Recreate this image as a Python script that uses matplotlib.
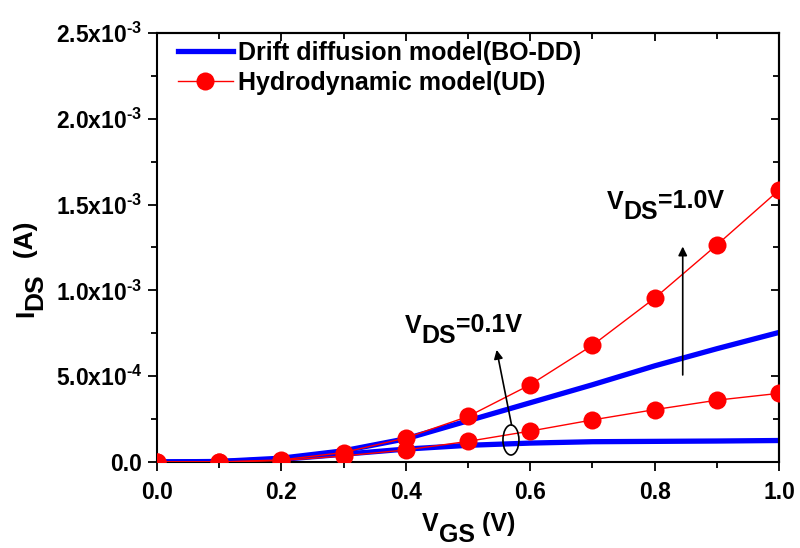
import matplotlib
matplotlib.use("Agg")
import matplotlib.pyplot as plt
from matplotlib.patches import Ellipse
from matplotlib.ticker import MultipleLocator, FixedLocator
from matplotlib.transforms import IdentityTransform

plt.rcParams['font.family'] = ['Liberation Sans', 'DejaVu Sans']
plt.rcParams['font.weight'] = 'bold'
plt.rcParams['mathtext.fontset'] = 'custom'
plt.rcParams['mathtext.rm'] = 'Liberation Sans:bold'
plt.rcParams['mathtext.it'] = 'Liberation Sans:bold'
plt.rcParams['mathtext.bf'] = 'Liberation Sans:bold'

# Gate voltage sweep (V)
vgs = [0.0, 0.1, 0.2, 0.3, 0.4, 0.5, 0.6, 0.7, 0.8, 0.9, 1.0]

# Drain current (A), drift-diffusion model
dd_vds_high = [0.0, 3e-6, 2.2e-5, 6.5e-5, 1.35e-4, 2.4e-4, 3.45e-4, 4.5e-4, 5.6e-4, 6.6e-4, 7.55e-4]
dd_vds_low = [0.0, 2e-6, 1.5e-5, 4.5e-5, 7.5e-5, 9.7e-5, 1.1e-4, 1.18e-4, 1.2e-4, 1.22e-4, 1.25e-4]

# Drain current (A), hydrodynamic model
hd_vds_high = [0.0, 0.0, 1.2e-5, 5.5e-5, 1.4e-4, 2.65e-4, 4.5e-4, 6.8e-4, 9.55e-4, 1.265e-3, 1.585e-3]
hd_vds_low = [0.0, 0.0, 8e-6, 3.5e-5, 7.0e-5, 1.2e-4, 1.8e-4, 2.45e-4, 3.05e-4, 3.6e-4, 4.0e-4]

ytick_vals = [0.0, 5e-4, 1e-3, 1.5e-3, 2e-3, 2.5e-3]
ytick_labels = ["0.0", r"5.0x10$^{\text{-4}}$", r"1.0x10$^{\text{-3}}$",
                r"1.5x10$^{\text{-3}}$", r"2.0x10$^{\text{-3}}$",
                r"2.5x10$^{\text{-3}}$"]
xtick_vals = [0.0, 0.2, 0.4, 0.6, 0.8, 1.0]
xtick_labels = ["0.0", "0.2", "0.4", "0.6", "0.8", "1.0"]

W, H = 800, 548
fig = plt.figure(figsize=(W / 100, H / 100), dpi=100)
ax = fig.add_axes([0.196, 0.157, 0.778, 0.783])

blue = '#0000ff'
red = '#ff0000'

ax.plot(vgs, dd_vds_high, color=blue, lw=3.8, zorder=2,
        label='Drift diffusion model(BO-DD)')
ax.plot(vgs, dd_vds_low, color=blue, lw=3.8, zorder=2)
ax.plot(vgs, hd_vds_high, color=red, lw=1.0, marker='o', ms=13,
        markeredgewidth=0, zorder=3, label='Hydrodynamic model(UD)')
ax.plot(vgs, hd_vds_low, color=red, lw=1.0, marker='o', ms=13,
        markeredgewidth=0, zorder=3)

ax.set_xlim(0.0, 1.0)
ax.set_ylim(0.0, 2.5e-3)
ax.xaxis.set_major_locator(FixedLocator(xtick_vals))
ax.xaxis.set_minor_locator(MultipleLocator(0.1))
ax.yaxis.set_major_locator(FixedLocator(ytick_vals))
ax.yaxis.set_minor_locator(MultipleLocator(2.5e-4))
ax.set_xticklabels(xtick_labels, fontsize=16.5, fontweight='bold')
ax.set_yticklabels(ytick_labels, fontsize=16.5, fontweight='bold')

for s in ax.spines.values():
    s.set_linewidth(1.5)
ax.tick_params(which='both', direction='out', width=1.3, top=False, right=False)
ax.tick_params(which='major', length=6.5)
ax.tick_params(which='minor', length=4)
ax.tick_params(axis='x', pad=7)
ax.tick_params(axis='y', pad=4)

# inward ticks on the top and right frame
axt = ax.secondary_xaxis('top')
axt.xaxis.set_major_locator(FixedLocator(xtick_vals))
axt.xaxis.set_minor_locator(MultipleLocator(0.1))
axt.tick_params(which='both', direction='in', width=1.3, labeltop=False)
axt.tick_params(which='major', length=6)
axt.tick_params(which='minor', length=4)
axt.spines['top'].set_linewidth(1.5)
axr = ax.secondary_yaxis('right')
axr.yaxis.set_major_locator(FixedLocator(ytick_vals))
axr.yaxis.set_minor_locator(MultipleLocator(2.5e-4))
axr.tick_params(which='both', direction='in', width=1.3, labelright=False)
axr.tick_params(which='major', length=6)
axr.tick_params(which='minor', length=4)
axr.spines['right'].set_linewidth(1.5)

renderer = fig.canvas.get_renderer()


def draw_runs(x, y, runs, size, rotation=0):
    """Write text pieces one after another starting at display point (x, y).
    Each run is (string, baseline shift in pixels, positive = lowered)."""
    for s, shift in runs:
        if rotation == 0:
            t = fig.text(x, y - shift, s, transform=IdentityTransform(),
                         fontsize=size, fontweight='bold', ha='left',
                         va='baseline')
            x += t.get_window_extent(renderer).width
        else:
            t = fig.text(x + shift, y, s, transform=IdentityTransform(),
                         fontsize=size, fontweight='bold', ha='left',
                         va='baseline', rotation=90, rotation_mode='anchor')
            y += t.get_window_extent(renderer).height


# Axis titles with Origin-style large subscripts
draw_runs(422, H - 531, [('V', 0), ('GS', 11), (' (V)', 0)], 18)
draw_runs(33, H - 317, [('I', 0), ('DS', 9), ('  (A)', 0)], 19, rotation=90)

# Annotations for the two drain biases
ax.add_patch(Ellipse((0.569, 1.28e-4), 0.0257, 1.75e-4, fill=False,
                     edgecolor='black', lw=1.2, zorder=4))
ax.annotate('', xy=(0.546, 6.53e-4), xytext=(0.570, 2.15e-4),
            arrowprops=dict(arrowstyle='-|>', color='black', lw=1.2,
                            mutation_scale=13, shrinkA=0, shrinkB=0))
ax.annotate('', xy=(0.845, 1.255e-3), xytext=(0.845, 5.07e-4),
            arrowprops=dict(arrowstyle='-|>', color='black', lw=1.2,
                            mutation_scale=13, shrinkA=0, shrinkB=0))

lx, ly = ax.transData.transform((0.399, 7.49e-4))
draw_runs(lx, ly, [('V', 0), ('DS', 10), ('=0.1V', -1)], 18)
lx, ly = ax.transData.transform((0.723, 1.474e-3))
draw_runs(lx, ly, [('V', 0), ('DS', 10), ('=1.0V', -1)], 18)

leg = ax.legend(loc='upper left', bbox_to_anchor=(0.034, 0.982), frameon=False,
                prop={'size': 18, 'weight': 'bold'}, handlelength=2.2,
                handletextpad=0.2, labelspacing=0.25, borderaxespad=0.0,
                borderpad=0.0)

fig.savefig('out.png', dpi=100)
